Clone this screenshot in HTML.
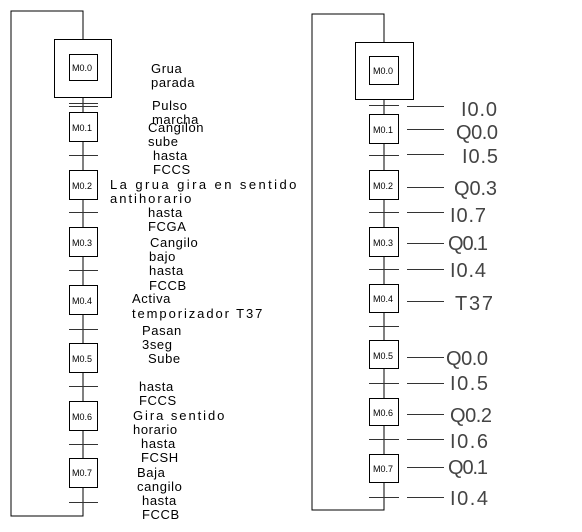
<!DOCTYPE html>
<html><head><meta charset="utf-8"><style>body{margin:0;background:#fff}svg{display:block}</style></head><body>
<svg width="582" height="532" viewBox="0 0 582 532" xmlns="http://www.w3.org/2000/svg">
<g fill="none" stroke="#000" stroke-width="1">
<polyline points="83,39 83,11 11,11 11,516 83,516 83,487"/>
<rect x="54.5" y="39.5" width="57" height="58"/>
<rect x="69.5" y="54.5" width="28" height="26"/>
<line x1="83" y1="97" x2="83" y2="112"/>
<rect x="69.5" y="112.5" width="28" height="29"/>
<line x1="83" y1="141" x2="83" y2="170"/>
<rect x="69.5" y="170.5" width="28" height="29"/>
<line x1="83" y1="199" x2="83" y2="227"/>
<rect x="69.5" y="227.5" width="28" height="29"/>
<line x1="83" y1="256" x2="83" y2="285"/>
<rect x="69.5" y="285.5" width="28" height="29"/>
<line x1="83" y1="314" x2="83" y2="343"/>
<rect x="69.5" y="343.5" width="28" height="29"/>
<line x1="83" y1="372" x2="83" y2="401"/>
<rect x="69.5" y="401.5" width="28" height="29"/>
<line x1="83" y1="430" x2="83" y2="458"/>
<rect x="69.5" y="458.5" width="28" height="29"/>
<g stroke="#333">
<line x1="69" y1="103.5" x2="98" y2="103.5"/><line x1="69" y1="106.5" x2="98" y2="106.5"/>
<line x1="69" y1="155.5" x2="98" y2="155.5"/>
<line x1="69" y1="212.5" x2="98" y2="212.5"/>
<line x1="69" y1="270.5" x2="98" y2="270.5"/>
<line x1="69" y1="329.5" x2="98" y2="329.5"/>
<line x1="69" y1="386.5" x2="98" y2="386.5"/>
<line x1="69" y1="444.5" x2="98" y2="444.5"/>
<line x1="69" y1="502.5" x2="98" y2="502.5"/>
</g>
<polyline points="384,42 384,14 312,14 312,510 384,510 384,482"/>
<rect x="355.5" y="42.5" width="58" height="57"/>
<rect x="369.5" y="56.5" width="29" height="28"/>
<line x1="384" y1="99" x2="384" y2="114"/>
<rect x="369.5" y="114.5" width="29" height="29"/>
<line x1="384" y1="143" x2="384" y2="170"/>
<rect x="369.5" y="170.5" width="29" height="29"/>
<line x1="384" y1="199" x2="384" y2="227"/>
<rect x="369.5" y="227.5" width="29" height="29"/>
<line x1="384" y1="256" x2="384" y2="284"/>
<rect x="369.5" y="284.5" width="29" height="28"/>
<line x1="384" y1="312" x2="384" y2="340"/>
<rect x="369.5" y="340.5" width="29" height="28"/>
<line x1="384" y1="368" x2="384" y2="398"/>
<rect x="369.5" y="398.5" width="29" height="27"/>
<line x1="384" y1="425" x2="384" y2="454"/>
<rect x="369.5" y="454.5" width="29" height="28"/>
<g stroke="#333">
<line x1="369" y1="105.5" x2="399" y2="105.5"/><line x1="407" y1="106.5" x2="444" y2="106.5"/>
<line x1="407" y1="129.5" x2="444" y2="129.5"/>
<line x1="369" y1="155.5" x2="399" y2="155.5"/><line x1="407" y1="154.5" x2="444" y2="154.5"/>
<line x1="407" y1="187.5" x2="444" y2="187.5"/>
<line x1="369" y1="212.5" x2="399" y2="212.5"/><line x1="407" y1="212.5" x2="444" y2="212.5"/>
<line x1="407" y1="243.5" x2="444" y2="243.5"/>
<line x1="369" y1="269.5" x2="399" y2="269.5"/><line x1="407" y1="269.5" x2="444" y2="269.5"/>
<line x1="407" y1="301.5" x2="444" y2="301.5"/>
<line x1="369" y1="326.5" x2="399" y2="326.5"/>
<line x1="407" y1="357.5" x2="444" y2="357.5"/>
<line x1="369" y1="383.5" x2="399" y2="383.5"/><line x1="407" y1="383.5" x2="444" y2="383.5"/>
<line x1="407" y1="414.5" x2="444" y2="414.5"/>
<line x1="369" y1="439.5" x2="399" y2="439.5"/><line x1="407" y1="439.5" x2="444" y2="439.5"/>
<line x1="407" y1="467.5" x2="444" y2="467.5"/>
<line x1="369" y1="497.5" x2="399" y2="497.5"/><line x1="407" y1="497.5" x2="444" y2="497.5"/>
</g>
</g>
<g font-family="Liberation Sans, sans-serif" font-size="9" fill="#000">
<text x="72" y="71">M0.0</text><text x="72" y="131">M0.1</text><text x="72" y="189">M0.2</text><text x="72" y="246">M0.3</text>
<text x="72" y="304">M0.4</text><text x="72" y="362">M0.5</text><text x="72" y="420">M0.6</text><text x="72" y="476">M0.7</text>
<text x="373" y="74">M0.0</text><text x="373" y="133">M0.1</text><text x="373" y="189">M0.2</text><text x="373" y="246">M0.3</text>
<text x="373" y="302">M0.4</text><text x="373" y="359">M0.5</text><text x="373" y="416">M0.6</text><text x="373" y="472">M0.7</text>
</g>
<g font-family="Liberation Sans, sans-serif" font-size="13" fill="#000" letter-spacing="0.6">
<text x="151" y="73">Grua</text><text x="151" y="87">parada</text>
<text x="152" y="110">Pulso</text><text x="152" y="124">marcha</text>
<text x="148" y="132">Cangilon</text><text x="148" y="146">sube</text>
<text x="153" y="160">hasta</text><text x="153" y="174">FCCS</text>
<text x="110" y="189" textLength="187">La grua gira en sentido</text><text x="110" y="203" textLength="82">antihorario</text>
<text x="148" y="217">hasta</text><text x="148" y="231">FCGA</text>
<text x="150" y="247">Cangilo</text><text x="149" y="261">bajo</text>
<text x="149" y="275">hasta</text><text x="149" y="290">FCCB</text>
<text x="132" y="303">Activa</text><text x="132" y="318" textLength="131">temporizador T37</text>
<text x="142" y="335">Pasan</text><text x="142" y="349">3seg</text><text x="148" y="363">Sube</text>
<text x="139" y="391">hasta</text><text x="139" y="405">FCCS</text>
<text x="133" y="420" textLength="92">Gira sentido</text><text x="133" y="434">horario</text>
<text x="141" y="448">hasta</text><text x="141" y="462">FCSH</text>
<text x="137" y="477">Baja</text><text x="137" y="491">cangilo</text>
<text x="142" y="505">hasta</text><text x="142" y="519">FCCB</text>
</g>
<g font-family="Liberation Sans, sans-serif" font-size="20" fill="#444">
<text x="461" y="116" textLength="36">I0.0</text>
<text x="456" y="139" textLength="42">Q0.0</text>
<text x="462" y="163" textLength="36">I0.5</text>
<text x="454" y="195" textLength="43">Q0.3</text>
<text x="450" y="222" textLength="36">I0.7</text>
<text x="448" y="250" textLength="40">Q0.1</text>
<text x="450" y="277" textLength="36">I0.4</text>
<text x="455" y="310" textLength="38">T37</text>
<text x="446" y="365" textLength="42">Q0.0</text>
<text x="450" y="390" textLength="38">I0.5</text>
<text x="450" y="422" textLength="42">Q0.2</text>
<text x="450" y="448" textLength="38">I0.6</text>
<text x="448" y="474" textLength="40">Q0.1</text>
<text x="450" y="505" textLength="38">I0.4</text>
</g>
</svg>
</body></html>
